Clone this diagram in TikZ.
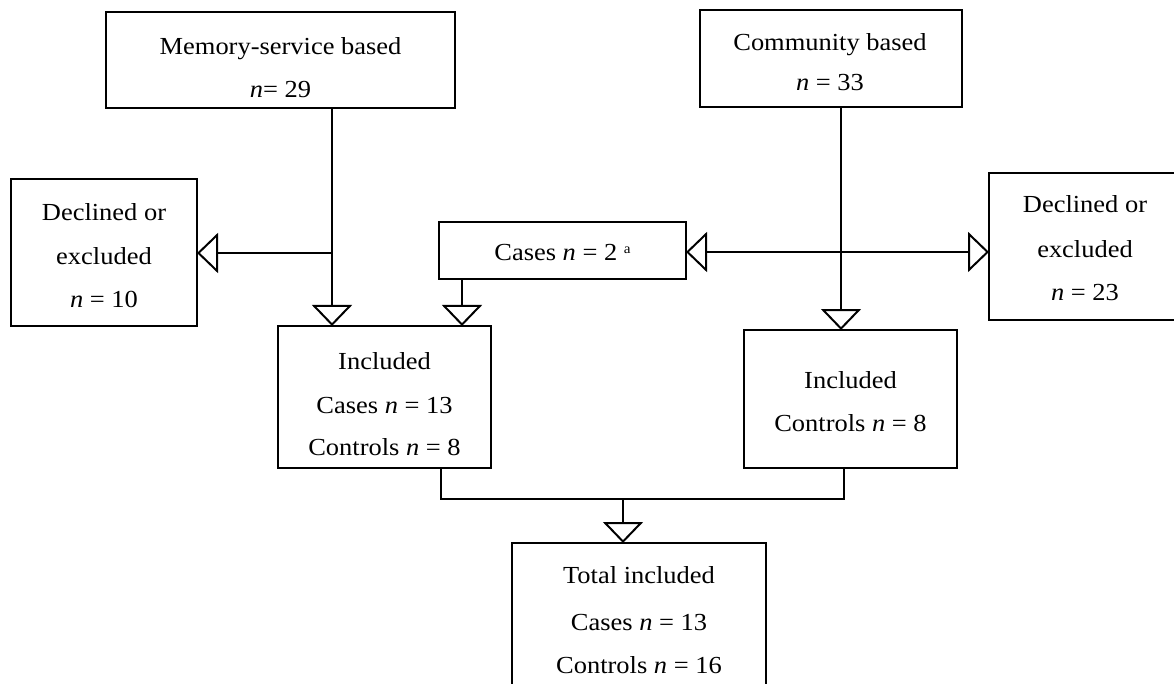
\documentclass[tikz,border=0pt]{standalone}
\usepackage{fontspec}
\setmainfont{Liberation Serif}[FakeStretch=1.08]
\usetikzlibrary{arrows.meta}
\begin{document}
\begin{tikzpicture}[x=1pt,y=-1pt,
  box/.style={draw, line width=2pt, inner sep=0pt, outer sep=0pt},
  txt/.style={font=\fontsize{24.5}{28}\selectfont, inner sep=0pt, anchor=base},
  conn/.style={line width=2pt},
  tri/.style={-{Triangle[open, length=21pt, width=40pt]}},
  tritwo/.style={{Triangle[open, length=21pt, width=40pt]}-{Triangle[open, length=21pt, width=40pt]}}
]
\clip (0,0) rectangle (1174,684);
\useasboundingbox (0,0) rectangle (1174,684);
\fill[white] (0,0) rectangle (1174,684);

% boxes
\node[box, minimum width=349pt, minimum height=96pt] (mem) at (280.5,60) {};
\node[box, minimum width=262pt, minimum height=97pt] (com) at (831,58.5) {};
\node[box, minimum width=186pt, minimum height=147pt] (decL) at (104,252.5) {};
\node[box, minimum width=192pt, minimum height=147pt] (decR) at (1085,246.5) {};
\node[box, minimum width=247pt, minimum height=57pt] (cases) at (562.5,250.5) {};
\node[box, minimum width=213pt, minimum height=142pt] (incL) at (384.5,397) {};
\node[box, minimum width=213pt, minimum height=138pt] (incR) at (850.5,399) {};
\node[box, minimum width=254pt, minimum height=157pt] (total) at (639,621.5) {};

% texts
\node[txt] (memA) at (280.5,55) {Memory-service based};
\node[txt] (memB) at (280.5,98) {\textit{n}= 29};
\node[txt] (comA) at (830,51) {Community based};
\node[txt] (comB) at (830,91) {\textit{n} = 33};
\node[txt] (decLA) at (104,221) {Declined or};
\node[txt] (decLB) at (104,265) {excluded};
\node[txt] (decLC) at (104,308) {\textit{n} = 10};
\node[txt] (decRA) at (1085,213) {Declined or};
\node[txt] (decRB) at (1085,258) {excluded};
\node[txt] (decRC) at (1085,301) {\textit{n} = 23};
\node[txt] (casesA) at (562.5,261) {Cases \textit{n} = 2 {\fontsize{14}{14}\selectfont\raisebox{7pt}{a}}};
\node[txt] (incLA) at (384.5,369) {Included};
\node[txt] (incLB) at (384.5,413) {Cases \textit{n} = 13};
\node[txt] (incLC) at (384.5,455) {Controls \textit{n} = 8};
\node[txt] (incRA) at (850.5,388) {Included};
\node[txt] (incRB) at (850.5,431) {Controls \textit{n} = 8};
\node[txt] (totA) at (639,583) {Total included};
\node[txt] (totB) at (639,630) {Cases \textit{n} = 13};
\node[txt] (totC) at (639,673) {Controls \textit{n} = 16};

% connectors
\coordinate (mj) at (332,253);
\coordinate (cj) at (462,0);
\coordinate (cm) at (841,0);
\coordinate (hj) at (0,252);
\coordinate (bl) at (441,499);
\coordinate (br) at (844,499);
\coordinate (bc) at (623,499);

\draw[conn,tri] (mem.south -| mj) -- (incL.north -| mj);
\draw[conn,tri] (mj) -- (decL.east |- mj);
\draw[conn,tri] (cases.south -| cj) -- (incL.north -| cj);
\draw[conn,tri] (com.south -| cm) -- (incR.north -| cm);
\draw[conn,tritwo] (cases.east |- hj) -- (decR.west |- hj);
\draw[conn] (incL.south -| bl) -- (bl) -- (br) -- (incR.south -| br);
\draw[conn,tri] (bc) -- (total.north -| bc);
\end{tikzpicture}
\end{document}
